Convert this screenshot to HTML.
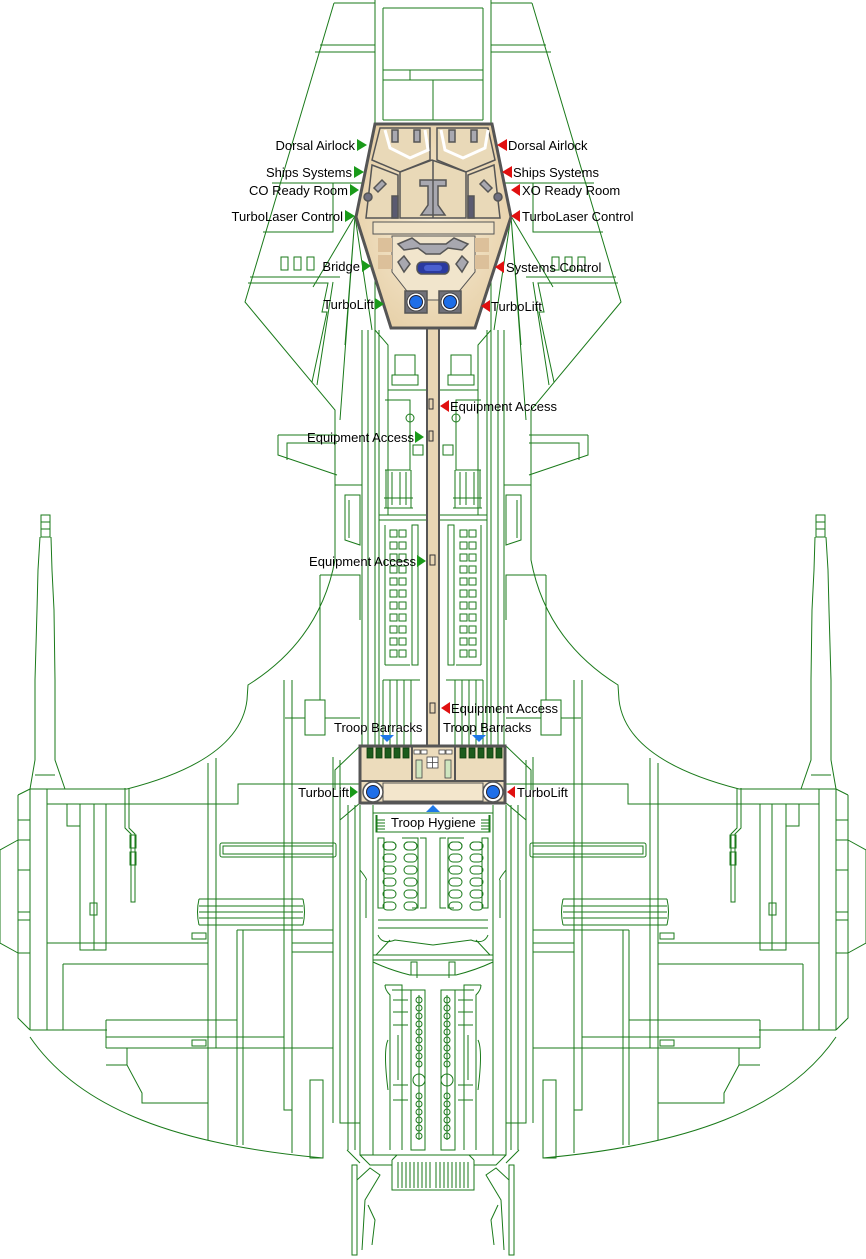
<!DOCTYPE html>
<html><head><meta charset="utf-8"><style>
html,body{margin:0;padding:0;background:#fff;}
svg{display:block;}
text{font-family:"Liberation Sans",Arial,sans-serif;font-size:13px;fill:#000;}
</style></head><body>
<svg width="866" height="1259" viewBox="0 0 866 1259" xmlns="http://www.w3.org/2000/svg">
<defs>
<radialGradient id="bg" cx="50%" cy="50%" r="60%"><stop offset="0" stop-color="#f7ecd6"/><stop offset="1" stop-color="#e6cfa6"/></radialGradient>
</defs>
<g id="L" fill="none" stroke="#1a7a1a" stroke-width="1">
<path d="M334,3 L245,302 L335,410 L335,560 Q320,640 248,685 L247,700"/>
<path d="M334,3 L375,3"/>
<path d="M320,45 L375,45 M315,52 L375,52 M272,183 L375,183 M263,232 L333,232 L333,183"/>
<path d="M250,277 L340,277 M248,283 L328,283 L322,312 L327,312 L312,382 M333,282 L317,385"/>
<path d="M355,216 L313,287 M355,216 L345,345 M355,216 L372,330 M355,216 L340,420"/>
<rect x="281" y="257" width="7" height="13"/><rect x="294" y="257" width="7" height="13"/><rect x="307" y="257" width="7" height="13"/>
<path d="M375,0 L375,330 M383,8 L383,120 M362,330 L362,745 M368,330 L368,745"/>
<path d="M278,435 L337,435 M278,435 L278,455 L337,475 M287,443 L337,443 L287,443 L287,460"/>
<path d="M335,475 L335,560 M335,485 L362,485 M345,495 L360,495 L360,545 L345,540 Z M349,500 L349,538"/>
<path d="M320,575 L360,575 L360,620 M320,575 L320,700"/>
<path d="M41,515 L50,515 L50,537 L41,537 Z M41,522 L50,522 M41,529 L50,529 M40,537 L38,570 L37,610 L35,680 L35,760 L30,789 M51,537 L52,570 L54,610 L55,680 L55,760 L65,789 M35,775 L55,775"/>
<path d="M247,700 Q240,760 127,789"/>
<path d="M30,789 L127,789 M47,804 L238,804 L238,784 L360,784 M30,789 L30,1030 M47,789 L47,1030 M18,795 L30,789 M18,795 L18,1018 L30,1030 M18,820 L30,820 M18,840 L30,840 M18,870 L30,870 M18,912 L30,912 M18,920 L30,920 M18,953 L30,953 M0,850 L18,840 M0,850 L0,943 L18,953"/>
<path d="M30,1030 L107,1030 M30,1037 C80,1110 180,1145 323,1158"/>
<path d="M208,763 L208,1140 M216,758 L216,1048 M237,930 L237,1145 M243,930 L243,1145 M284,680 L284,1110 L292,1110 M292,680 L292,1153 M333,757 L333,1123 M340,760 L340,1123 L360,1123"/>
<path d="M47,943 L208,943 M63,964 L208,964 M63,964 L63,1030 M106,1020 L237,1020 M106,1037 L284,1037 M106,1048 L333,1048 M106,1020 L106,1048"/>
<path d="M80,804 L80,950 L106,950 L106,804 M94,804 L94,950 M67,804 L67,826 L80,826"/>
<rect x="90" y="903" width="7" height="12"/>
<path d="M125,788 L125,828 L131,834 L131,902 L135,902 L135,834 L129,828 L129,788"/>
<rect x="130" y="835" width="6" height="13"/><rect x="130" y="852" width="6" height="13"/>
<rect x="220" y="843" width="116" height="14" rx="2"/><rect x="223" y="846" width="110" height="8"/>
<path d="M199,899 L303,899 M199,906 L303,906 M199,912 L303,912 M199,918 L303,918 M199,925 L303,925 M199,899 Q196,912 199,925 M303,899 Q306,912 303,925"/>
<path d="M237,930 L333,930 M292,943 L333,943 M292,952 L333,952"/>
<rect x="192" y="933" width="14" height="6"/><rect x="192" y="1040" width="14" height="6"/>
<path d="M106,1065 L127,1065 L127,1048 M127,1065 L142,1093 L142,1103 L208,1103"/>
<rect x="310" y="1080" width="13" height="78"/>
<path d="M305,700 L325,700 L325,735 L305,735 Z M325,718 L360,718 M285,718 L305,718"/>
<path d="M360,746 L335,770 L335,790 M360,803 L340,820 M348,805 L348,1150 M355,805 L355,1150"/>
<path d="M347,1150 L360,1163 M352,1165 L352,1255 L357,1255 L357,1165 Z"/>
<path d="M357,1180 L370,1168 L380,1175 L365,1200 L362,1250 M368,1205 L375,1220 L372,1245"/>
<path d="M375,330 L388,345 L388,515 M379,330 L379,745 M375,745 L375,330 M379,515 L427,515 M379,520 L427,520"/>
<rect x="395" y="355" width="20" height="20"/><rect x="392" y="375" width="26" height="10"/>
<path d="M388,390 L427,390 M385,400 L410,400 L410,470 L385,470"/>
<circle cx="410" cy="418" r="4"/><rect x="413" y="445" width="10" height="10"/>
<path d="M386,470 L386,508 L411,508 L411,470 M392,472 L392,505 M400,472 L400,505 M406,472 L406,505 M384,498 L413,498 M384,508 L413,508"/>
<path d="M385,525 L385,665 M412,525 L418,525 L418,665 L412,665 Z M385,665 L410,665"/>
<g id="sq"><rect x="390" y="530" width="7" height="7"/><rect x="399" y="530" width="7" height="7"/></g>
<use href="#sq" y="12"/><use href="#sq" y="24"/><use href="#sq" y="36"/><use href="#sq" y="48"/><use href="#sq" y="60"/><use href="#sq" y="72"/><use href="#sq" y="84"/><use href="#sq" y="96"/><use href="#sq" y="108"/><use href="#sq" y="120"/>
<path d="M383,680 L383,745 M390,680 L390,745 M397,680 L397,745 M404,680 L404,745 M411,680 L411,745 M383,680 L420,680"/>
<path d="M360,805 L360,1155 L433,1155 M373,805 L373,1155 M373,813 L433,813 M373,955 L433,955 M373,960 L433,960 M376,815 L376,832 L433,832"/>
<path d="M366,880 L366,918 M360,870 Q368,880 366,880 M376,955 L390,940"/>
<path d="M378,838 L378,908 L384,908 L384,838 Z M402,838 L418,838 L418,908 L412,908 M420,838 L426,838 L426,908 L420,908"/>
<g id="ov"><rect x="383" y="842" width="13" height="8" rx="4"/><rect x="404" y="842" width="13" height="8" rx="4"/></g>
<use href="#ov" y="12"/><use href="#ov" y="24"/><use href="#ov" y="36"/><use href="#ov" y="48"/><use href="#ov" y="60"/><use href="#ov" y="0"/>
<path d="M378,920 L433,920 M378,928 L433,928 M378,935 Q382,945 395,940 L433,945 M377,815 L377,832"/>
<path d="M377,820 L385,820 M377,823 L385,823 M377,826 L385,826 M377,829 L385,829"/>
<path d="M373,962 Q390,970 410,975 L433,975 M411,975 L411,962 L417,962 L417,978"/>
<path d="M385,985 L402,985 L402,1150 M385,985 Q385,990 390,995 L390,1150 M392,990 L415,990 M393,1000 L408,1000 M393,1012 L408,1012 M393,1025 L408,1025 M393,1085 L408,1085 M393,1100 L408,1100"/>
<path d="M388,1040 Q383,1050 388,1090 M398,1035 L398,1080"/>
<path d="M411,990 L411,1150 L425,1150 L425,990 Z M419,995 L419,1140"/>
<circle cx="419" cy="1000" r="3"/><circle cx="419" cy="1008" r="3"/><circle cx="419" cy="1016" r="3"/><circle cx="419" cy="1024" r="3"/><circle cx="419" cy="1032" r="3"/><circle cx="419" cy="1040" r="3"/><circle cx="419" cy="1048" r="3"/><circle cx="419" cy="1056" r="3"/><circle cx="419" cy="1064" r="3"/><circle cx="419" cy="1080" r="6"/><circle cx="419" cy="1096" r="3"/><circle cx="419" cy="1104" r="3"/><circle cx="419" cy="1112" r="3"/><circle cx="419" cy="1120" r="3"/><circle cx="419" cy="1128" r="3"/><circle cx="419" cy="1136" r="3"/>
<path d="M360,1155 L370,1165 L392,1165 M392,1160 L392,1190 L433,1190 M392,1160 L397,1155 M398,1162 L398,1188 M402,1162 L402,1188 M406,1162 L406,1188 M410,1162 L410,1188 M414,1162 L414,1188 M418,1162 L418,1188 M422,1162 L422,1188 M426,1162 L426,1188 M430,1162 L430,1188"/>
</g>
<use href="#L" transform="translate(866,0) scale(-1,1)"/>
<g fill="none" stroke="#1a7a1a">
<path d="M383,8 L483,8 M383,80 L483,80 M383,70 L483,70 M410,70 L410,80 M383,120 L483,120 M433,80 L433,120"/>
</g>
<rect x="427" y="326" width="12" height="420" fill="#e8d6b4" stroke="#555" stroke-width="2"/>
<rect x="429" y="399" width="4" height="10" fill="none" stroke="#333"/><rect x="429" y="431" width="4" height="10" fill="none" stroke="#333"/>
<rect x="430" y="555" width="5" height="10" fill="none" stroke="#333"/><rect x="430" y="703" width="5" height="10" fill="none" stroke="#333"/>
<polygon points="375,124 492,124 511,217 475,328 391,328 356,217" fill="url(#bg)" stroke="#555" stroke-width="3"/>
<g stroke="#555" stroke-width="1.5" fill="#a8a8b0">
<path d="M380,128 L430,128 L430,160 L400,172 L372,160 Z" fill="#e9d9b8"/>
<path d="M437,128 L488,128 L495,160 L466,172 L437,160 Z" fill="#e9d9b8"/>
<path d="M385,130 L390,148 L410,158 L428,150 L425,130" fill="none" stroke="#fff" stroke-width="3"/>
<path d="M441,130 L445,150 L463,158 L485,148 L488,130" fill="none" stroke="#fff" stroke-width="3"/>
<rect x="392" y="130" width="6" height="12"/><rect x="414" y="130" width="6" height="12"/><rect x="449" y="130" width="6" height="12"/><rect x="471" y="130" width="6" height="12"/>
<path d="M372,165 L398,175 L398,218 L366,218 Z" fill="#e9d9b8" stroke="#555"/>
<path d="M494,165 L468,175 L468,218 L500,218 Z" fill="#e9d9b8" stroke="#555"/>
<path d="M400,172 L432,160 L466,172 L466,218 L400,218 Z" fill="#e9d9b8"/>
<path d="M420,180 L446,180 L446,186 L438,186 L438,205 L445,215 L421,215 L428,205 L428,186 L420,186 Z"/>
<rect x="392" y="196" width="6" height="22" fill="#5a5a70"/><rect x="468" y="196" width="6" height="22" fill="#5a5a70"/>
<circle cx="368" cy="197" r="4" fill="#707080"/><circle cx="498" cy="197" r="4" fill="#707080"/>
<path d="M374,188 L382,180 L386,184 L378,192 Z M492,188 L484,180 L480,184 L488,192 Z"/>
<line x1="433" y1="160" x2="433" y2="218"/>
<rect x="373" y="222" width="121" height="12" fill="#f0e2c6" stroke="#555" stroke-width="1"/>
<path d="M392,236 L475,236 L475,272 L452,300 L414,300 L392,272 Z" fill="#f1e5cc" stroke="#555" stroke-width="1"/>
<path d="M398,244 L412,238 L420,244 L446,244 L454,238 L468,244 L462,250 L448,248 L440,254 L426,254 L418,248 L404,250 Z"/>
<path d="M398,262 L404,256 L410,264 L404,272 Z M468,262 L462,256 L456,264 L462,272 Z"/>
<rect x="417" y="262" width="32" height="12" rx="5" fill="#2a3aa0" stroke="#555"/>
<rect x="424" y="265" width="18" height="6" rx="3" fill="#4a60d0" stroke="none"/>
<rect x="378" y="238" width="14" height="14" fill="#dcc09a" stroke="none"/><rect x="378" y="255" width="14" height="14" fill="#dcc09a" stroke="none"/>
<rect x="475" y="238" width="14" height="14" fill="#dcc09a" stroke="none"/><rect x="475" y="255" width="14" height="14" fill="#dcc09a" stroke="none"/>
<rect x="405" y="291" width="22" height="22" fill="#707078"/><rect x="439" y="291" width="22" height="22" fill="#707078"/>
</g>
<circle cx="416" cy="302" r="9" fill="#fff" stroke="#444"/><circle cx="416" cy="302" r="6.5" fill="#1e6ee8" stroke="#223"/>
<circle cx="450" cy="302" r="9" fill="#fff" stroke="#444"/><circle cx="450" cy="302" r="6.5" fill="#1e6ee8" stroke="#223"/>
<rect x="360" y="746" width="145" height="57" fill="#ecdcbc" stroke="#555" stroke-width="3"/>
<line x1="360" y1="781" x2="505" y2="781" stroke="#555" stroke-width="2"/>
<line x1="412" y1="746" x2="412" y2="781" stroke="#555" stroke-width="2"/><line x1="455" y1="746" x2="455" y2="781" stroke="#555" stroke-width="2"/>
<rect x="383" y="783" width="100" height="18" fill="#f3e6cc" stroke="#555"/>
<g fill="#1c5c1c" stroke="#0c3c0c" stroke-width="0.8">
<rect x="367" y="748" width="6" height="10"/><rect x="376" y="748" width="6" height="10"/><rect x="385" y="748" width="6" height="10"/><rect x="394" y="748" width="6" height="10"/><rect x="403" y="748" width="6" height="10"/>
<rect x="460" y="748" width="6" height="10"/><rect x="469" y="748" width="6" height="10"/><rect x="478" y="748" width="6" height="10"/><rect x="487" y="748" width="6" height="10"/><rect x="496" y="748" width="6" height="10"/>
</g>
<g fill="#fff" stroke="#444" stroke-width="0.8">
<rect x="414" y="750" width="6" height="4"/><rect x="421" y="750" width="6" height="4"/><rect x="439" y="750" width="6" height="4"/><rect x="446" y="750" width="6" height="4"/>
<rect x="427" y="757" width="11" height="11"/>
<path d="M432.5,757 V768 M427,762.5 H438"/>
<rect x="416" y="760" width="6" height="18" fill="#cfe6c0"/><rect x="445" y="760" width="6" height="18" fill="#cfe6c0"/>
</g>
<circle cx="373" cy="792" r="10" fill="#fff" stroke="#555" stroke-width="1.5"/><circle cx="373" cy="792" r="6.5" fill="#1e6ee8" stroke="#223"/>
<circle cx="493" cy="792" r="10" fill="#fff" stroke="#555" stroke-width="1.5"/><circle cx="493" cy="792" r="6.5" fill="#1e6ee8" stroke="#223"/>
<g fill="#1a9a1a">
<polygon points="357,139 367,145 357,151"/>
<polygon points="354,166 364,172 354,178"/>
<polygon points="350,184 359,190 350,196"/>
<polygon points="345,210 355,216 345,222"/>
<polygon points="362,260 371,266 362,272"/>
<polygon points="375,298 384,304 375,310"/>
<polygon points="415,431 424,437 415,443"/>
<polygon points="417,555 426,561 417,567"/>
<polygon points="350,786 358,792 350,798"/>
</g>
<g fill="#e01010">
<polygon points="507,139 497,145 507,151"/>
<polygon points="512,166 502,172 512,178"/>
<polygon points="520,184 511,190 520,196"/>
<polygon points="520,210 511,216 520,222"/>
<polygon points="504,261 495,267 504,273"/>
<polygon points="490,300 481,306 490,312"/>
<polygon points="449,400 440,406 449,412"/>
<polygon points="450,702 441,708 450,714"/>
<polygon points="515,786 507,792 515,798"/>
</g>
<g fill="#1e78e8">
<polygon points="380,735 394,735 387,742"/>
<polygon points="472,735 486,735 479,742"/>
<polygon points="426,812 440,812 433,805"/>
</g>
<g text-anchor="end">
<text x="355" y="150">Dorsal Airlock</text>
<text x="352" y="177">Ships Systems</text>
<text x="348" y="195">CO Ready Room</text>
<text x="343" y="221">TurboLaser Control</text>
<text x="360" y="271">Bridge</text>
<text x="374" y="309">TurboLift</text>
<text x="414" y="442">Equipment Access</text>
<text x="416" y="566">Equipment Access</text>
<text x="349" y="797">TurboLift</text>
</g>
<text x="508" y="150">Dorsal Airlock</text>
<text x="513" y="177">Ships Systems</text>
<text x="522" y="195">XO Ready Room</text>
<text x="522" y="221">TurboLaser Control</text>
<text x="506" y="272">Systems Control</text>
<text x="491" y="311">TurboLift</text>
<text x="450" y="411">Equipment Access</text>
<text x="451" y="713">Equipment Access</text>
<text x="334" y="732">Troop Barracks</text>
<text x="443" y="732">Troop Barracks</text>
<text x="517" y="797">TurboLift</text>
<text x="391" y="827">Troop Hygiene</text>
</svg>
</body></html>
